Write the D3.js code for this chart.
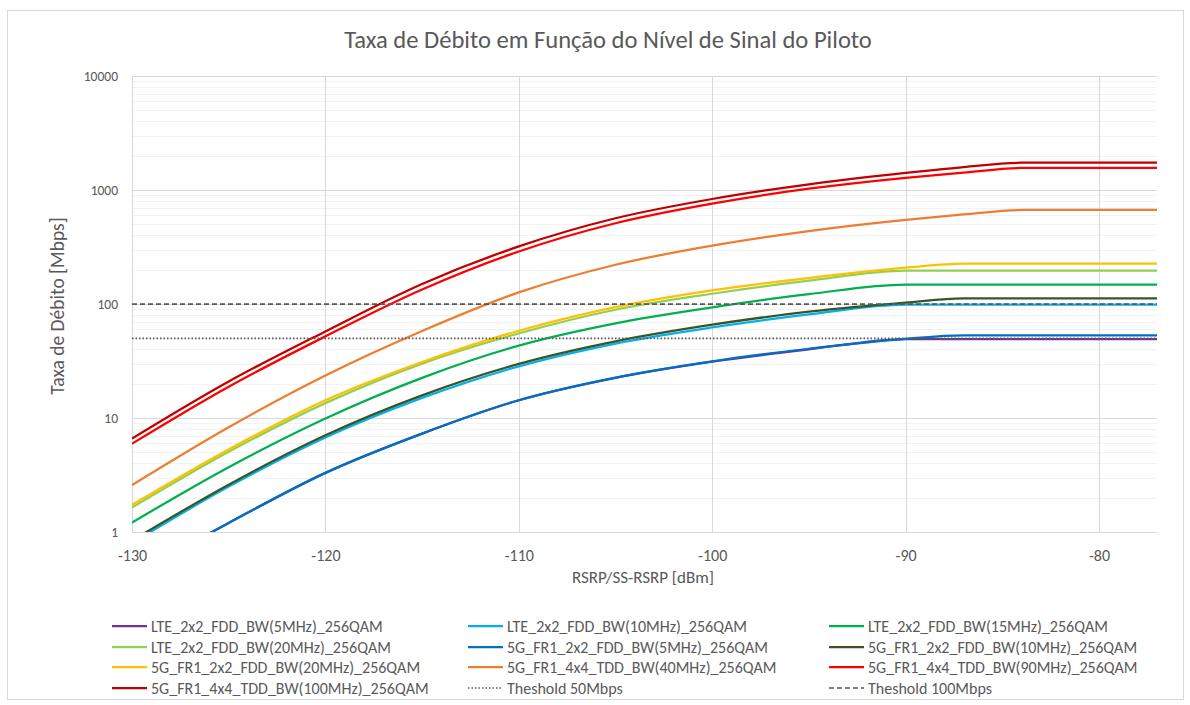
<!DOCTYPE html>
<html>
<head>
<meta charset="utf-8">
<script src="https://cdn.jsdelivr.net/npm/d3@7"></script>
<style>
    body { margin: 0; background: #ffffff; }
    svg { display: block; font-family: Carlito, Lato, "Open Sans", sans-serif; }
</style>
</head>
<body>
<div class="grafiek"></div>
<script>
// RSRP / SS-RSRP punten (dBm)
const rsrp = [-130, -125, -120, -115, -110, -105, -100, -95, -90, -87, -84, -77];

// Taxa de débito (Mbps) per série, uitgelezen uit de figuur
const lte5 = [0.41, 1.2, 3.3, 7.3, 14.3, 22.5, 31.2, 40, 49.3, 49.3, 49.3, 49.3];
const lte10 = [0.80, 2.5, 6.75, 15.0, 28.4, 45, 62.3, 81, 98.5, 98.5, 98.5, 98.5];
const lte15 = [1.21, 3.7, 9.9, 22.5, 43.1, 67.6, 93.4, 122, 148, 148, 148, 148];
const lte20 = [1.64, 5.05, 13.5, 30, 55.2, 89, 123, 160, 196, 196, 196, 196];
const nr5 = [0.41, 1.2, 3.3, 7.3, 14.3, 22.6, 31.4, 40.5, 49.5, 53, 53, 53];
const nr10 = [0.84, 2.6, 7.05, 15.8, 29.8, 47, 65.8, 85.7, 103, 112, 112, 112];
const nr20 = [1.73, 5.3, 14.3, 31, 58.3, 94, 131.6, 169, 208, 226, 226, 226];
const nr40 = [2.58, 8.3, 23.6, 58, 126.4, 221, 325, 436, 546, 610, 668, 668];
const nr90 = [5.95, 18.8, 52, 134, 289, 511, 759, 1026, 1280, 1420, 1560, 1560];
const nr100 = [6.6, 20.9, 57.5, 150, 320, 565, 834, 1122, 1410, 1590, 1735, 1735];

const seriesNames = [
    "LTE_2x2_FDD_BW(5MHz)_256QAM",
    "LTE_2x2_FDD_BW(10MHz)_256QAM",
    "LTE_2x2_FDD_BW(15MHz)_256QAM",
    "LTE_2x2_FDD_BW(20MHz)_256QAM",
    "5G_FR1_2x2_FDD_BW(5MHz)_256QAM",
    "5G_FR1_2x2_FDD_BW(10MHz)_256QAM",
    "5G_FR1_2x2_FDD_BW(20MHz)_256QAM",
    "5G_FR1_4x4_TDD_BW(40MHz)_256QAM",
    "5G_FR1_4x4_TDD_BW(90MHz)_256QAM",
    "5G_FR1_4x4_TDD_BW(100MHz)_256QAM"
];
const seriesValues = [lte5, lte10, lte15, lte20, nr5, nr10, nr20, nr40, nr90, nr100];
const seriesColors = ["#7030A0", "#00B0F0", "#00B050", "#92D050", "#0070C0",
                      "#375623", "#FFC000", "#ED7D31", "#FF0000", "#C00000"];

// drempels
const thresholdNames = ["Theshold 50Mbps", "Theshold 100Mbps"];
const thresholdValues = [50, 100];
const thresholdDash = ["1.5,2", "5,3"];

const xTicks = [-130, -120, -110, -100, -90, -80];
const yTicks = [1, 10, 100, 1000, 10000];

function drawChart() {
    const width = 1190;
    const height = 705;
    const plot = { left: 132, top: 76, right: 1157, bottom: 532 };
    const textColor = "#595959";

    const svg = d3.select(".grafiek")
        .append("svg")
        .attr("width", width)
        .attr("height", height);

    svg.append("rect")
        .attr("x", 7.5)
        .attr("y", 10.5)
        .attr("width", 1176)
        .attr("height", 689)
        .attr("fill", "white")
        .attr("stroke", "#d9d9d9");

    const x = d3.scaleLinear()
        .domain([-130, -77])
        .range([plot.left, plot.right]);

    const y = d3.scaleLog()
        .domain([1, 10000])
        .range([plot.bottom, plot.top]);

    // minor gridlines
    const minor = [];
    for (let p = 0; p < 4; p++) {
        for (let k = 2; k < 10; k++) minor.push(k * Math.pow(10, p));
    }
    svg.append("g")
        .selectAll("line")
        .data(minor)
        .join("line")
        .attr("x1", plot.left)
        .attr("x2", plot.right)
        .attr("y1", d => Math.round(y(d)) + 0.5)
        .attr("y2", d => Math.round(y(d)) + 0.5)
        .attr("stroke", "#f2f2f2");

    svg.append("g")
        .selectAll("line")
        .data(yTicks)
        .join("line")
        .attr("x1", plot.left)
        .attr("x2", plot.right)
        .attr("y1", d => Math.round(y(d)) + 0.5)
        .attr("y2", d => Math.round(y(d)) + 0.5)
        .attr("stroke", "#d9d9d9");

    svg.append("g")
        .selectAll("line")
        .data(xTicks)
        .join("line")
        .attr("x1", d => Math.round(x(d)) + 0.5)
        .attr("x2", d => Math.round(x(d)) + 0.5)
        .attr("y1", plot.top)
        .attr("y2", plot.bottom)
        .attr("stroke", "#d9d9d9");

    // axes (only labels)
    const yAxis = svg.append("g")
        .attr("transform", `translate(${plot.left},0)`)
        .call(d3.axisLeft(y).tickValues(yTicks).tickFormat(d => String(d)).tickSize(0).tickPadding(14));
    yAxis.select(".domain").remove();
    yAxis.selectAll("text")
        .attr("fill", textColor)
        .style("font-size", "13.5px")
        .style("font-family", "Carlito, Lato, sans-serif");

    const xAxis = svg.append("g")
        .attr("transform", `translate(0,${plot.bottom})`)
        .call(d3.axisBottom(x).tickValues(xTicks).tickFormat(d => String(d)).tickSize(0).tickPadding(18));
    xAxis.select(".domain").remove();
    xAxis.selectAll("text")
        .attr("fill", textColor)
        .style("font-size", "16px")
        .style("font-family", "Carlito, Lato, sans-serif");

    svg.append("text")
        .attr("x", 608)
        .attr("y", 48)
        .attr("text-anchor", "middle")
        .attr("fill", textColor)
        .style("font-size", "24.6px")
        .style("font-weight", "300")
        .text("Taxa de Débito em Função do Nível de Sinal do Piloto");

    svg.append("text")
        .attr("transform", "translate(64,306) rotate(-90)")
        .attr("text-anchor", "middle")
        .attr("fill", textColor)
        .style("font-size", "19.5px")
        .style("font-weight", "300")
        .text("Taxa de Débito [Mbps]");

    svg.append("text")
        .attr("x", 643)
        .attr("y", 583)
        .attr("text-anchor", "middle")
        .attr("fill", textColor)
        .style("font-size", "17px")
        .text("RSRP/SS-RSRP [dBm]");

    // series
    svg.append("clipPath")
        .attr("id", "plotclip")
        .append("rect")
        .attr("x", plot.left)
        .attr("y", plot.top)
        .attr("width", plot.right - plot.left)
        .attr("height", plot.bottom - plot.top);

    const lines = svg.append("g").attr("clip-path", "url(#plotclip)");

    const line = d3.line()
        .x(d => x(d[0]))
        .y(d => y(d[1]))
        .curve(d3.curveMonotoneX);

    seriesValues.forEach((vals, i) => {
        lines.append("path")
            .datum(rsrp.map((r, j) => [r, vals[j]]))
            .attr("fill", "none")
            .attr("stroke", seriesColors[i])
            .attr("stroke-width", 2.25)
            .attr("d", line);
    });

    thresholdValues.forEach((v, i) => {
        lines.append("line")
            .attr("x1", x(-130))
            .attr("x2", x(-77))
            .attr("y1", y(v))
            .attr("y2", y(v))
            .attr("stroke", textColor)
            .attr("stroke-width", 1.75)
            .attr("stroke-dasharray", thresholdDash[i]);
    });

    // legend
    const labels = seriesNames.map((n, i) => ({ text: n, color: seriesColors[i], dash: null }))
        .concat(thresholdNames.map((n, i) => ({ text: n, color: textColor, dash: thresholdDash[i] })));

    const colX = [112, 468, 829];
    const rowY = [626, 647, 667, 688];

    labels.forEach((label, i) => {
        const cx = colX[i % 3];
        const cy = rowY[Math.floor(i / 3)];
        svg.append("line")
            .attr("x1", cx)
            .attr("x2", cx + 35)
            .attr("y1", cy)
            .attr("y2", cy)
            .attr("stroke", label.color)
            .attr("stroke-width", label.dash ? 1.5 : 2.25)
            .attr("stroke-dasharray", label.dash);

        svg.append("text")
            .attr("x", cx + 39)
            .attr("y", cy)
            .attr("dy", "0.35em")
            .attr("fill", textColor)
            .style("font-size", "16px")
            .text(label.text);
    });
}

drawChart();
</script>
</body>
</html>
